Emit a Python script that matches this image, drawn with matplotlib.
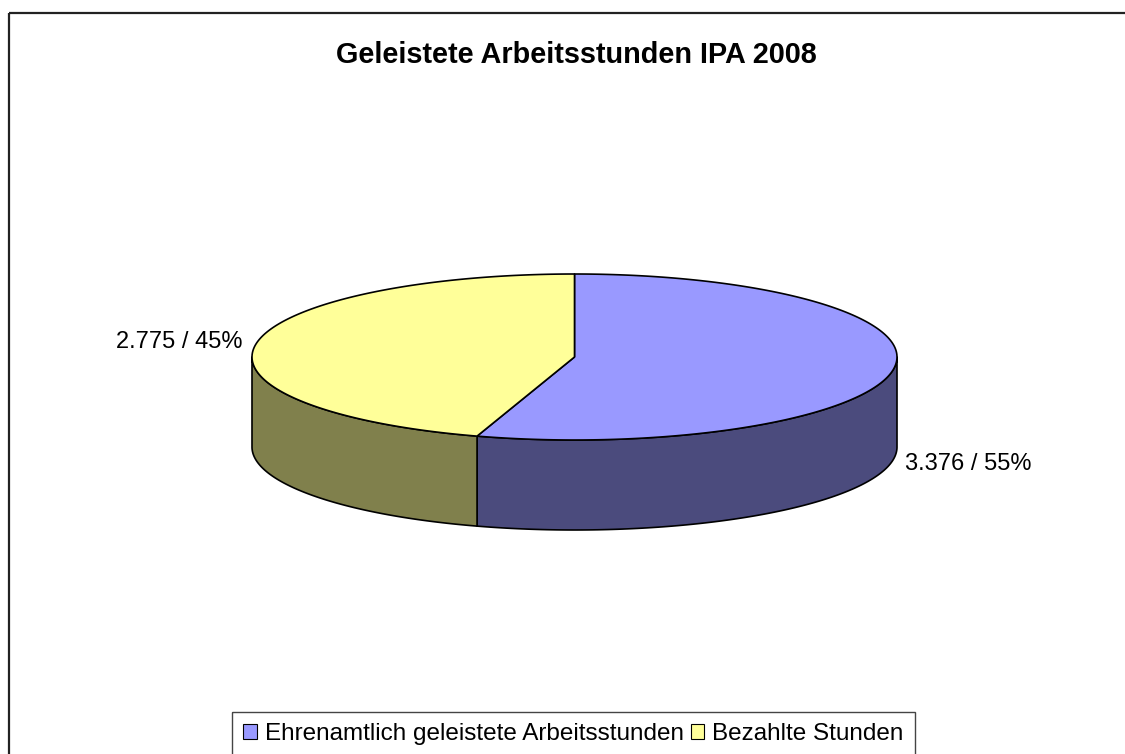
import numpy as np
import matplotlib
matplotlib.use('Agg')
import matplotlib.pyplot as plt
from matplotlib.patches import Polygon, Rectangle, Patch

plt.rcParams['font.family'] = ['Liberation Sans', 'DejaVu Sans']

# data
categories = ['Ehrenamtlich geleistete Arbeitsstunden', 'Bezahlte Stunden']
stunden = [3376, 2775]
top_colors = ['#9999FF', '#FFFF99']
side_colors = ['#4B4B7D', '#80804C']
title = 'Geleistete Arbeitsstunden IPA 2008'

# pie geometry (pixel space)
cx, cy = 574.5, 357.0
rx, ry = 322.5, 83.0
depth = 90.0

def ell(theta):
    t = np.radians(theta)
    return cx + rx * np.cos(t), cy - ry * np.sin(t)

fig = plt.figure(figsize=(11.25, 7.54), dpi=100)
ax = fig.add_axes([0, 0, 1, 1])
ax.set_xlim(0, 1125)
ax.set_ylim(754, 0)
ax.axis('off')

total = float(sum(stunden))
start = 90.0
wedges = []
for v in stunden:
    span = 360.0 * v / total
    wedges.append((start - span, start))  # clockwise from 12 o'clock
    start -= span

# side walls (front half only)
for (a0, a1), col in zip(wedges, side_colors):
    lo, hi = a0 % 360, a1 % 360
    if hi <= lo:
        hi += 360
    for f0, f1 in [(180, 360), (540, 720)]:
        s, e = max(lo, f0), min(hi, f1)
        if e <= s:
            continue
        th = np.linspace(s, e, 120)
        x, y = ell(th)
        pts = np.column_stack([np.r_[x, x[::-1]], np.r_[y, y[::-1] + depth]])
        ax.add_patch(Polygon(pts, closed=True, facecolor=col, edgecolor='black',
                             lw=1.2, joinstyle='round', zorder=2))

# top faces
for (a0, a1), col in zip(wedges, top_colors):
    th = np.linspace(a0, a1, 200)
    x, y = ell(th)
    pts = np.column_stack([np.r_[cx, x], np.r_[cy, y]])
    ax.add_patch(Polygon(pts, closed=True, facecolor=col, edgecolor='black',
                         lw=1.2, joinstyle='round', zorder=3))

# data labels
labels = []
for v in stunden:
    pct = int(round(100 * v / total))
    labels.append(f"{v / 1000:.3f} / {pct}%")
ax.text(905, 464, labels[0], fontsize=17, ha='left', va='center')
ax.text(243, 342, labels[1], fontsize=17, ha='right', va='center')

# title
ax.text(576, 55, title, fontsize=20.8, fontweight='bold', ha='center', va='center')

# outer frame
ax.add_patch(Rectangle((8.5, 12.5), 1200, 800, fill=False, edgecolor='#222222', lw=1.6, zorder=1))

# legend
handles = [Patch(facecolor=c, edgecolor='black', lw=0.8) for c in top_colors]
ax.legend(handles, categories, loc='center', bbox_to_anchor=(573.5, 734),
          bbox_transform=ax.transData, ncol=2, frameon=False, fontsize=17.5,
          handlelength=0.55, handleheight=0.55, handletextpad=0.33,
          columnspacing=0.3, borderpad=0.2)
ax.add_patch(Rectangle((232, 712), 683, 80, fill=False, edgecolor='#444444', lw=1.0, zorder=1))

fig.savefig('out.png', dpi=100)
